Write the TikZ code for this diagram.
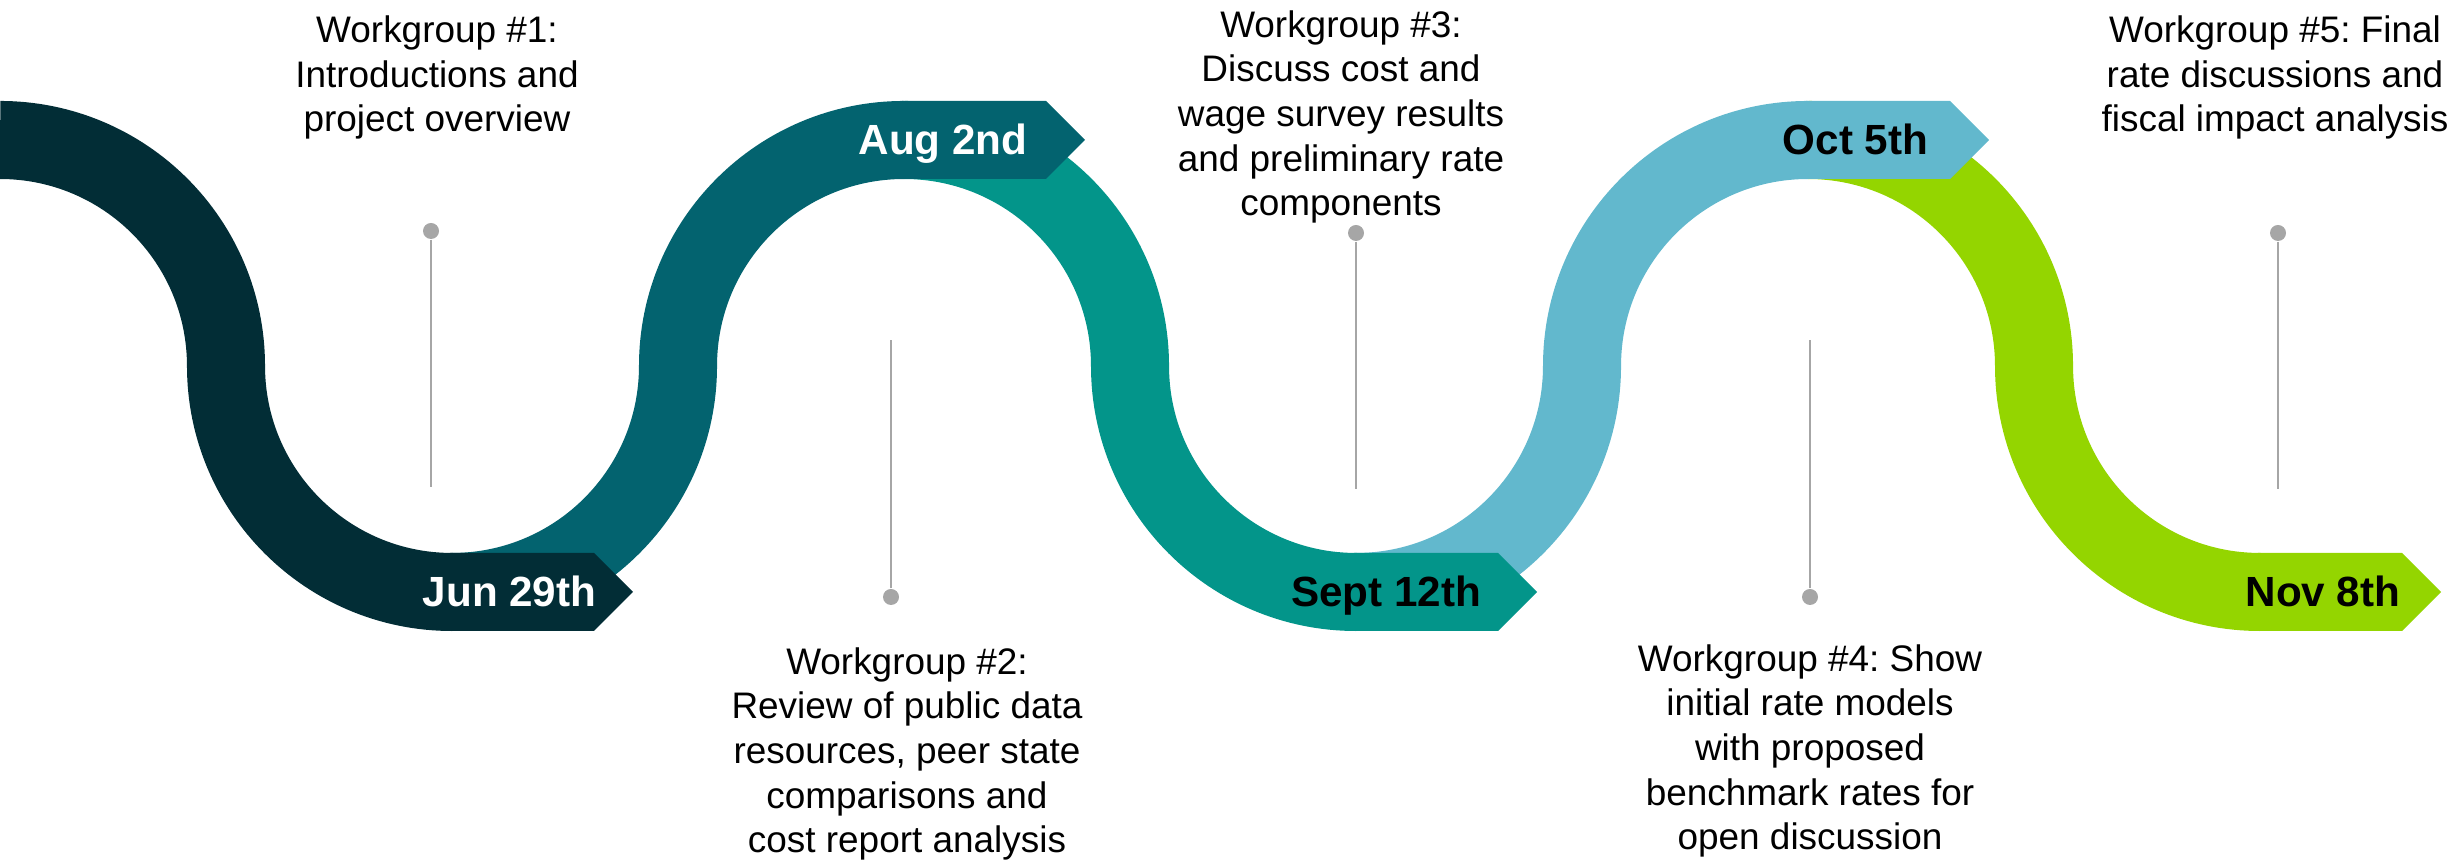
\documentclass[tikz,border=0pt]{standalone}
\usepackage{fontspec}
\setmainfont{Liberation Sans}
\usepackage{tikz}
\usepackage{xcolor}
\frenchspacing

\definecolor{bandA}{HTML}{022D36}
\definecolor{bandB}{HTML}{03636F}
\definecolor{bandC}{HTML}{03958A}
\definecolor{bandD}{HTML}{62B8CD}
\definecolor{bandE}{HTML}{94D500}
\definecolor{pingrey}{HTML}{A6A6A6}

\tikzset{
  band/.style={line width=0.78cm},
  datelabel/.style={font=\fontsize{12}{14}\selectfont\bfseries, inner sep=0pt, anchor=base east},
  wgtext/.style={font=\fontsize{10.5}{12.7}\selectfont, align=center, inner sep=0pt, anchor=base},
  pindot/.style={circle, fill=pingrey, inner sep=0pt, minimum size=0.16cm},
  pinline/.style={pingrey, line width=0.7pt}
}

\begin{document}
\begin{tikzpicture}[x=0.01cm, y=0.01cm]
\useasboundingbox (0,0) rectangle (2455,862);

% ribbon, one colour per month
\foreach \k/\col in {0/bandA, 2/bandC, 4/bandE}
    \draw[band, \col] ({452*\k},722) arc[start angle=90, end angle=0, radius=226]
        arc[start angle=180, end angle=270, radius=226];
\foreach \k/\col in {1/bandB, 3/bandD}
    \draw[band, \col] ({452*\k},270) arc[start angle=-90, end angle=0, radius=226]
        arc[start angle=180, end angle=90, radius=226];

% date tags
\foreach \k/\c/\col/\tcol/\tx/\lab in {1/270/bandA/white/597/Jun 29th,
                                      2/722/bandB/white/1028/Aug 2nd,
                                      3/270/bandC/black/1482/Sept 12th,
                                      4/722/bandD/black/1929/Oct 5th,
                                      5/270/bandE/black/2401/Nov 8th}
{
    \fill[\col] ({452*\k-2},\c-39) -- ({452*\k+142},\c-39) -- ({452*\k+181},\c)
        -- ({452*\k+142},\c+39) -- ({452*\k-2},\c+39) -- cycle;
    \node[datelabel, text=\tcol] (date\k) at (\tx,\c-15) {\lab};
}

% pins
\foreach \n/\px/\dy/\ey in {1/431/631/375, 2/891/265/522, 3/1356/629/373,
                            4/1810/265/522, 5/2278/629/373}
{
    \node[pindot] (pin\n) at (\px,\dy) {};
    \coordinate (pinend\n) at (\px,\ey);
    \draw[pinline] (pin\n) -- (pinend\n);
}

% workgroup notes (base = last line)
\node[wgtext] (wg1) at (437,730) {Workgroup \#1:\\Introductions and\\project overview};
\node[wgtext] (wg2) at (907,9) {Workgroup \#2:\\Review of public data\\resources, peer state\\comparisons and\\cost report analysis};
\node[wgtext] (wg3) at (1341,646) {Workgroup \#3:\\Discuss cost and\\wage survey results\\and preliminary rate\\components};
\node[wgtext] (wg4) at (1810,12) {Workgroup \#4: Show\\initial rate models\\with proposed\\benchmark rates for\\open discussion};
\node[wgtext] (wg5) at (2275,730) {Workgroup \#5: Final\\rate discussions and\\fiscal impact analysis};

\end{tikzpicture}
\end{document}
